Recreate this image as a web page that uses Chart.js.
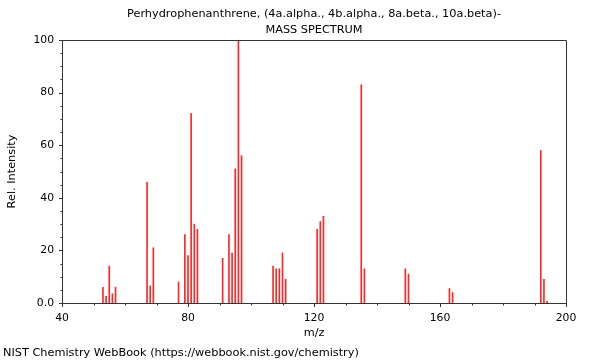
<!DOCTYPE html>
<html>
<head>
<meta charset="utf-8">
<script src="https://cdn.jsdelivr.net/npm/chart.js@4.4.1/dist/chart.umd.min.js"></script>
<style>
  html, body { margin: 0; padding: 0; background: #fff; }
  #wrap { width: 600px; height: 360px; }
</style>
</head>
<body>
<div id="wrap"><canvas id="msChart" width="600" height="360"></canvas></div>
<script>
// texts
const titleLines = ['Perhydrophenanthrene, (4a.alpha., 4b.alpha., 8a.beta., 10a.beta)-', 'MASS SPECTRUM'];
const footerText = 'NIST Chemistry WebBook (https://webbook.nist.gov/chemistry)';
const xTitle = 'm/z';
const yTitle = 'Rel. Intensity';

// peaks (m/z, relative intensity)
const mzValues = [53, 54, 55, 56, 57, 67, 68, 69, 77, 79, 80, 81, 82, 83,
  91, 93, 94, 95, 96, 97, 107, 108, 109, 110, 111, 121, 122, 123,
  135, 136, 149, 150, 163, 164, 192, 193, 194];
const relIntensity = [6, 2.5, 14, 3.5, 6, 46, 6.5, 21, 8, 26, 18, 72, 30, 28,
  17, 26, 19, 51, 100, 56, 14, 13, 13, 19, 9, 28, 31, 33,
  83, 13, 13, 11, 5.5, 4, 58, 9, 0.6];

// axis ticks
const xMajorTicks = [40, 80, 120, 160, 200];
const yMajorTicks = [0, 20, 40, 60, 80, 100];

const FONT = '"DejaVu Sans", sans-serif';
const AXIS_COLOR = '#333';

// extra drawing: frame, major/minor tick marks, titles
const decorations = {
  id: 'decorations',
  afterDraw(chart) {
    const ctx = chart.ctx;
    const a = chart.chartArea;
    const xs = chart.scales.x;
    const ys = chart.scales.y;
    ctx.save();
    ctx.strokeStyle = AXIS_COLOR;
    ctx.lineWidth = 1;
    ctx.beginPath();
    ctx.moveTo(Math.round(a.left) + 0.5, Math.round(a.top) + 0.5);
    ctx.lineTo(Math.round(a.right) + 0.5, Math.round(a.top) + 0.5);
    ctx.lineTo(Math.round(a.right) + 0.5, Math.round(a.bottom) + 0.5);
    ctx.stroke();

    ctx.beginPath();
    for (let v = 40; v <= 200; v += 10) {
      const px = Math.round(xs.getPixelForValue(v)) + 0.5;
      const len = xMajorTicks.includes(v) ? 4 : 2.5;
      ctx.moveTo(px, Math.round(a.bottom));
      ctx.lineTo(px, Math.round(a.bottom) + len);
    }
    for (let v = 0; v <= 100; v += 5) {
      const py = Math.round(ys.getPixelForValue(v)) + 0.5;
      const len = yMajorTicks.includes(v) ? 4 : 2.5;
      ctx.moveTo(Math.round(a.left) + 1, py);
      ctx.lineTo(Math.round(a.left) + 1 - len, py);
    }
    ctx.stroke();

    const cx = (a.left + a.right) / 2;
    ctx.fillStyle = '#000';
    ctx.font = '11.3px ' + FONT;
    ctx.textAlign = 'center';
    ctx.textBaseline = 'middle';
    ctx.fillText(titleLines[0], cx, 14);
    ctx.fillText(titleLines[1], cx, 30);
    ctx.fillText(xTitle, cx, 333);

    ctx.textAlign = 'left';
    ctx.fillText(footerText, 3, 353);

    ctx.translate(12, (a.top + a.bottom) / 2);
    ctx.rotate(-Math.PI / 2);
    ctx.textAlign = 'center';
    ctx.fillText(yTitle, 0, 0);
    ctx.restore();
  }
};

const ctx = document.getElementById('msChart').getContext('2d');
new Chart(ctx, {
  type: 'bar',
  data: {
    datasets: [{
      data: mzValues.map((m, i) => ({ x: m, y: relIntensity[i] })),
      backgroundColor: 'rgba(255, 0, 0, 0.85)',
      borderWidth: 0,
      barThickness: 1
    }]
  },
  options: {
    responsive: false,
    animation: false,
    devicePixelRatio: 1,
    layout: { padding: { top: 40, right: 34, left: 0, bottom: 0 } },
    plugins: {
      legend: { display: false },
      tooltip: { enabled: false }
    },
    scales: {
      x: {
        type: 'linear',
        offset: false,
        min: 40,
        max: 200,
        afterFit: s => { s.height = 57; },
        grid: { display: false, drawTicks: false, offset: false },
        border: { display: true, color: AXIS_COLOR, width: 1 },
        ticks: {
          stepSize: 10,
          autoSkip: false,
          maxRotation: 0,
          padding: 9,
          color: '#000',
          font: { family: FONT, size: 10.8 },
          callback: v => (xMajorTicks.includes(v) ? String(v) : '')
        }
      },
      y: {
        min: 0,
        max: 100,
        afterFit: s => { s.width = 62; },
        grid: { display: false, drawTicks: false },
        border: { display: true, color: AXIS_COLOR, width: 1 },
        ticks: {
          stepSize: 5,
          autoSkip: false,
          padding: 8,
          color: '#000',
          font: { family: FONT, size: 10.8 },
          callback: v => (yMajorTicks.includes(v) ? (v === 0 ? '0.0' : String(v)) : '')
        }
      }
    }
  },
  plugins: [decorations]
});
</script>
</body>
</html>
